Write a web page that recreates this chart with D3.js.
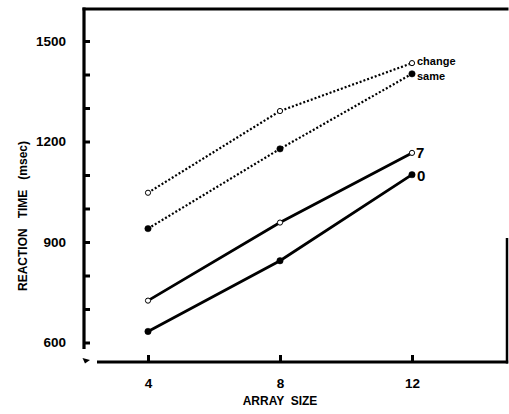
<!DOCTYPE html>
<html><head><meta charset="utf-8">
<script src="https://cdn.jsdelivr.net/npm/d3@7"></script>
<style>
body{margin:0;background:#fff;}
text{font-family:"Liberation Sans",Arial,sans-serif;font-weight:bold;fill:#000;}
</style></head>
<body><svg id="c" width="509" height="414"></svg>
<script>
const arraySizes = [4, 8, 12];
const changeRT = [1047, 1291, 1434];
const sameRT = [940, 1178, 1402];
const sevenRT = [725, 958, 1166];
const zeroRT = [633, 844, 1101];
const yTickLabels = [600, 900, 1200, 1500];
const yMinorTicks = [600, 700, 800, 900, 1000, 1100, 1200, 1300, 1400, 1500];
const xTickLabels = [4, 8, 12];

const series = [
  {name: "change", values: changeRT, dotted: true, open: true, fs: 11, dx: 5, dy: 2},
  {name: "same", values: sameRT, dotted: true, open: false, fs: 11, dx: 5, dy: 6},
  {name: "7", values: sevenRT, dotted: false, open: true, fs: 15, dx: 4, dy: 5},
  {name: "0", values: zeroRT, dotted: false, open: false, fs: 15, dx: 5, dy: 6}
];

const svg = d3.select("#c");
const L = 84, R = 507, T = 9, B = 362;
const x = d3.scaleLinear().domain([4, 12]).range([148, 412]);
const y = d3.scaleLinear().domain([600, 1500]).range([342.5, 41]);

// frame
const g = svg.append("g");
g.append("line").attr("x1", L).attr("x2", L).attr("y1", T - 1.5).attr("y2", 349).attr("stroke", "#000").attr("stroke-width", 3.2);
g.append("line").attr("x1", L - 1.5).attr("x2", R + 1.5).attr("y1", T).attr("y2", T).attr("stroke", "#000").attr("stroke-width", 3.2);
g.append("line").attr("x1", R).attr("x2", R).attr("y1", 238).attr("y2", B + 1.5).attr("stroke", "#000").attr("stroke-width", 2.5);
g.append("line").attr("x1", 97).attr("x2", R + 1.2).attr("y1", B).attr("y2", B).attr("stroke", "#000").attr("stroke-width", 3.2);
// axis break mark
g.append("path").attr("d", `M${L-1.5},${B-4} L${L+6},${B-2} L${L+1},${B+1.5} Z`).attr("fill", "#000");

// y ticks (inward)
const yAxis = d3.axisLeft(y).tickValues(yMinorTicks).tickSize(-6).tickFormat(d => yTickLabels.includes(d) ? d : "");
const ya = svg.append("g").attr("transform", `translate(${L},0)`).call(yAxis);
ya.select(".domain").remove();
ya.selectAll(".tick line").attr("stroke", "#000").attr("stroke-width", 3);
ya.selectAll(".tick text").attr("x", -18).attr("font-size", 13.5).attr("font-family", "Liberation Sans, Arial, sans-serif").attr("font-weight", "bold");

// x ticks (inward)
const xAxis = d3.axisBottom(x).tickValues(xTickLabels).tickSize(-7);
const xa = svg.append("g").attr("transform", `translate(0,${B})`).call(xAxis);
xa.select(".domain").remove();
xa.selectAll(".tick line").attr("stroke", "#000").attr("stroke-width", 3);
xa.selectAll(".tick text").attr("y", 16).attr("font-size", 13.5).attr("font-family", "Liberation Sans, Arial, sans-serif").attr("font-weight", "bold");

// axis titles
svg.append("text").attr("x", 280).attr("y", 405).attr("text-anchor", "middle").attr("font-size", 12).attr("xml:space", "preserve").text("ARRAY  SIZE");
svg.append("text").attr("transform", "translate(27,216) rotate(-90)").attr("text-anchor", "middle").attr("font-size", 12).attr("xml:space", "preserve").text("REACTION   TIME   (msec)");

// lines
const line = d3.line().x((d, i) => x(arraySizes[i])).y(d => y(d));
series.forEach(s => {
  svg.append("path").datum(s.values).attr("d", line).attr("fill", "none").attr("stroke", "#000")
    .attr("stroke-width", s.dotted ? 2.2 : 2.8)
    .attr("stroke-dasharray", s.dotted ? "2,2" : null);
  svg.selectAll(null).data(s.values).enter().append("circle")
    .attr("cx", (d, i) => x(arraySizes[i])).attr("cy", d => y(d))
    .attr("r", s.open ? 2.6 : 3.2)
    .attr("fill", s.open ? "#fff" : "#000").attr("stroke", "#000").attr("stroke-width", s.open ? 1 : 0.5);
  const last = s.values[s.values.length - 1];
  svg.append("text").attr("x", x(12) + s.dx).attr("y", y(last) + s.dy).attr("font-size", s.fs).text(s.name);
});
</script></body></html>
